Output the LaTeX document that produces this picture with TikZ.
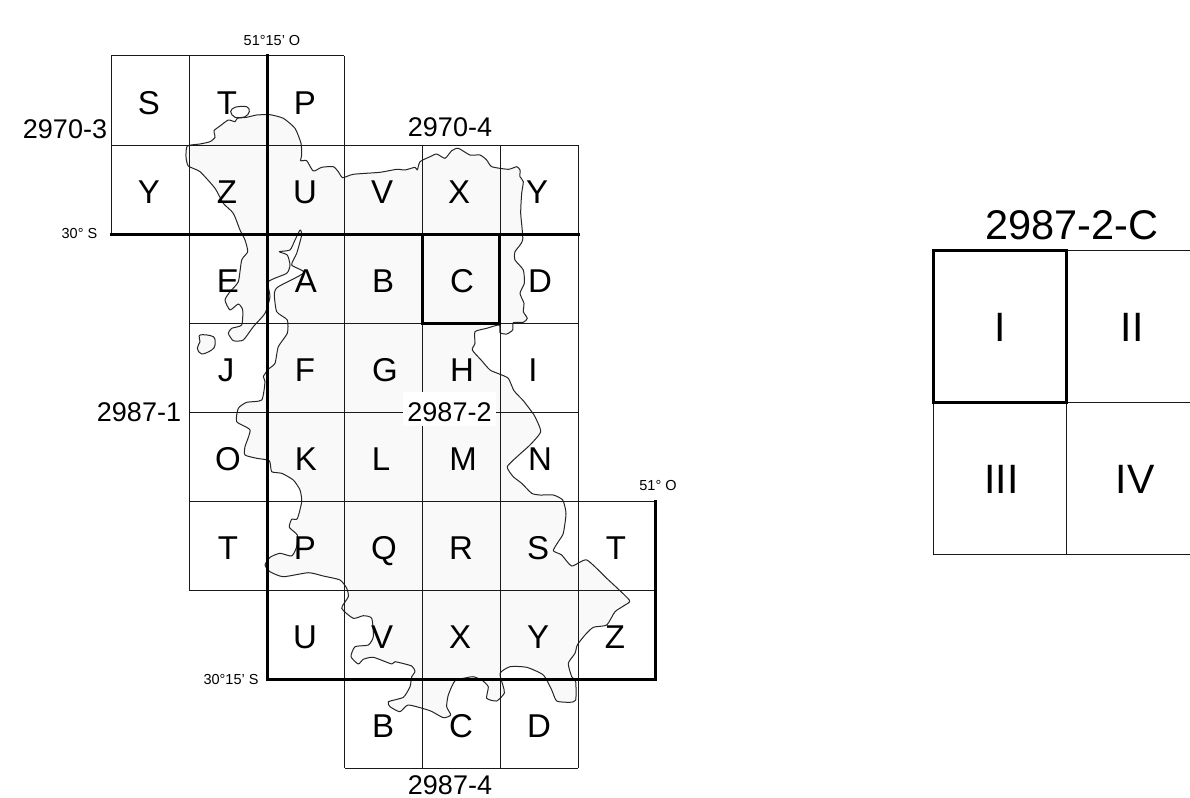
\documentclass[tikz,border=0pt]{standalone}
\usepackage{fontspec}
\setmainfont{Liberation Sans}
\definecolor{land}{HTML}{F9F9F9}
\tikzset{
  thinline/.style={draw=black!90,line width=1pt},
  thickline/.style={draw=black,line width=3pt,line cap=rect},
  coast/.style={draw=black!85,line width=1pt,fill=land,line join=round},
  cell/.style={anchor=base,inner sep=0pt,font=\fontsize{33}{33}\selectfont},
  sheet/.style={anchor=base,inner sep=0pt,font=\fontsize{27}{27}\selectfont},
  geo/.style={anchor=base,inner sep=0pt,font=\fontsize{14.5}{15}\selectfont},
  big/.style={anchor=base,inner sep=0pt,font=\fontsize{41.5}{42}\selectfont},
  roman/.style={anchor=base,inner sep=0pt,font=\fontsize{41}{41}\selectfont}
}
\begin{document}
\begin{tikzpicture}[x=1pt,y=-1pt]
\useasboundingbox (0,0) rectangle (1190,797);
\fill[white] (0,0) rectangle (1190,797);
% land
\draw[coast] plot[smooth cycle,tension=.35] coordinates{
(187.3,146)(200,144)(210,141.7)(215,137.3)(214,130.7)(220,126)(228.3,120)(235,121.7)(237.3,118.3)(246.7,117.3)(256.7,115)(270,114.7)(283.3,118.3)(295,128.3)(301,143.3)(301.7,155)(300.7,160.7)(306.7,160.7)(313.3,171)(321.7,167.3)(333.3,166.7)(338.3,171.7)(342.7,177.7)(353.3,174.3)(380,172.3)(396.7,169.3)(405,170)(415,167.3)(417.3,170)(420,161.7)(430,156.7)(436.7,154)(445,158.3)(451.7,150.7)(458.3,148.3)(470,155)(480,155)(486.7,160)(491.7,166.7)(508.3,169.3)(516.7,166.7)(520,170)(520,176.7)(523.3,181.7)(521.7,193.3)(520.7,213.3)(522.7,240)(515,251.7)(515,260)(523.3,270)(524.3,283.3)(520,293.3)(524,303.3)(523.3,311.7)(527.3,318.3)(523.3,322.3)(513.3,322.7)(512.7,330)(506.7,334)(500,332.7)(499.3,325)(486.7,328.3)(475,331.7)(475,343.3)(472.3,350)(481.7,360.7)(490,370)(499.3,374)(508.3,378.3)(514,390.7)(523.3,400.7)(531.7,411.7)(535,416.7)(540.7,431.7)(530,445)(520,454)(507.3,466.7)(513.3,476.7)(521.7,483.3)(531.7,493.3)(540,495)(553.3,495)(562.7,500)(566,513.3)(563.3,533.3)(558.3,541.7)(553.3,550.7)(561.7,555)(571.7,566)(586.7,560)(606.7,578.3)(629.3,600)(625,605)(615,611.7)(606.7,625)(593.3,627.3)(585,635)(577.3,645)(575,653.3)(568.3,663.3)(571.7,676.7)(575.7,681.7)(575.7,700)(570,702.3)(556.7,701)(551.7,690)(543.3,675)(526.7,667.3)(510,666.7)(500,673.3)(503.3,686.7)(504.3,693.3)(496.7,701)(486.7,698.3)(488.3,686.7)(481.7,680)(473.3,676.7)(466.7,677.7)(455,680.7)(448.3,695)(446.7,706.7)(450.7,715)(443.3,717.7)(430,710.7)(408.3,705)(400,711.7)(390,706.7)(388.3,701.7)(403.3,697.3)(410,686.7)(411.7,676.7)(415,671.7)(411.7,666)(395,661.7)(391.7,664)(373.3,657.3)(363.3,659.3)(358.3,664)(351,656.7)(355,646.7)(368.3,645)(373.3,636.7)(371.7,618.3)(363.3,615.7)(353.3,618.3)(341.7,608.3)(348.3,596.7)(346.7,588.3)(340,580)(323.3,576)(308.3,572.7)(283.3,576.7)(270,571.7)(265,565)(270,557.3)(280,553.3)(291.7,556)(296.7,546.7)(297.3,535)(289.3,527.3)(291.7,519.3)(297.3,518.7)(301.7,501.7)(300,490)(293.3,480)(281.7,473.3)(271.7,471.7)(269.3,460.7)(256.7,458.3)(245,455)(245,446.7)(250,430)(236.7,421.7)(238.3,408.3)(246.7,402.3)(261.7,400)(265,381.7)(263.3,376.7)(268.3,369.3)(275,363.3)(278.3,346.7)(287.3,333.3)(287.3,320)(276.7,311.7)(274.3,293.3)(278.3,286.7)(304,272.7)(291.7,265)(296.7,253.3)(301.7,235)(300,230)(295,240)(290,250)(279.3,251.7)(287.3,255)(290,265)(286.7,273.3)(268.3,281.7)(270,296.7)(265,313.3)(253.3,326.7)(243.3,340)(233.3,340.7)(228.3,333.3)(231.7,328.3)(241.7,325)(242.7,310)(238.3,304)(230,310)(225,300)(230,291.7)(238.3,281.7)(241.7,260)(247.7,251.7)(245,240)(240,230)(233.3,213.3)(223.3,203.3)(215,188.3)(200,171.7)(188.3,166)(186,156.7)};
\draw[coast] plot[smooth cycle,tension=.6] coordinates{(200,335)(213.3,336.7)(215,345)(211.7,350)(201.7,354)(197.3,348.3)(200,341.7)};
\draw[coast,fill=white] plot[smooth cycle,tension=.6] coordinates{(230.7,111.7)(235,107.3)(246.7,106.7)(249.3,111.7)(245,116.7)(235,117.3)};
% thin grid
\draw[thinline] (111,56) -- (344,56) (111,145) -- (578,145) (189,323) -- (578,323) (189,412) -- (578,412)
  (189,501) -- (655,501) (189,590) -- (655,590) (345,768) -- (578,768)
  (111,56) -- (111,234) (189,56) -- (189,590) (344.5,56) -- (344.5,768)
  (422,145) -- (422,768) (500,145) -- (500,768) (578,145) -- (578,768);
% thick lines
\draw[thickline] (111,234) -- (578,234) (267,56) -- (267,679) -- (655,679) -- (655,501);
\draw[thickline] (422,234) rectangle (499.5,323);
% cell letters
\node[cell] (s1) at (149,114) {S};
\node[cell] (t1) at (227,114) {T};
\node[cell] (p1) at (305,114) {P};
\node[cell] (y1) at (149,203) {Y};
\node[cell] (z1) at (227,203) {Z};
\node[cell] (u1) at (305,203) {U};
\node[cell] (v1) at (382,203) {V};
\node[cell] (x1) at (459,203) {X};
\node[cell] (y2) at (537,203) {Y};
\node[cell] (e2) at (228,292) {E};
\node[cell] (a2) at (306,292) {A};
\node[cell] (b2) at (383,292) {B};
\node[cell] (c2) at (462,292) {C};
\node[cell] (d2) at (540,292) {D};
\node[cell] (j2) at (226,381) {J};
\node[cell] (f2) at (305,381) {F};
\node[cell] (g2) at (385,381) {G};
\node[cell] (h2) at (462,381) {H};
\node[cell] (i2) at (533,381) {I};
\node[cell] (o2) at (228,470) {O};
\node[cell] (k2) at (306,470) {K};
\node[cell] (l2) at (381,470) {L};
\node[cell] (m2) at (463,470) {M};
\node[cell] (n2) at (540,470) {N};
\node[cell] (t3) at (228,559) {T};
\node[cell] (p3) at (305,559) {P};
\node[cell] (q3) at (384,559) {Q};
\node[cell] (r3) at (461,559) {R};
\node[cell] (s3) at (538,559) {S};
\node[cell] (t4) at (616,559) {T};
\node[cell] (u3) at (305,648) {U};
\node[cell] (v3) at (382,648) {V};
\node[cell] (x3) at (460,648) {X};
\node[cell] (y3) at (538,648) {Y};
\node[cell] (z3) at (615,648) {Z};
\node[cell] (b4) at (383,737) {B};
\node[cell] (c4) at (461,737) {C};
\node[cell] (d4) at (539,737) {D};
% sheet labels
\node[sheet] (l29703) at (65,139) {2970-3};
\node[sheet] (l29704) at (450,136) {2970-4};
\node[sheet] (l29871) at (139,421) {2987-1};
\node[sheet,fill=white,inner xsep=4.5pt,text height=29pt,text depth=5pt] (l29872) at (449.5,421) {2987-2};
\node[sheet] (l29874) at (450,794) {2987-4};
% geographic labels
\node[geo] (g1) at (272,45.5) {51°15' O};
\node[geo] (g2) at (79.5,238.5) {30° S};
\node[geo] (g3) at (231,684) {30°15' S};
\node[geo] (g4) at (658,490) {51° O};
% detail
\draw[thinline] (1066,250.5) -- (1190,250.5) (1066,402.5) -- (1190,402.5) (933.5,403) -- (933.5,554) -- (1190,554) (1066,403) -- (1066,554);
\draw[thickline] (933.5,250.5) rectangle (1066,402.5);
\node[big] (dt) at (1071.5,239.5) {2987-2-C};
\node[roman] (r1) at (1000,341.5) {I};
\node[roman] (r2) at (1132,341.5) {II};
\node[roman] (r3x) at (1001.5,493) {III};
\node[roman] (r4) at (1135,493) {IV};
\end{tikzpicture}
\end{document}
